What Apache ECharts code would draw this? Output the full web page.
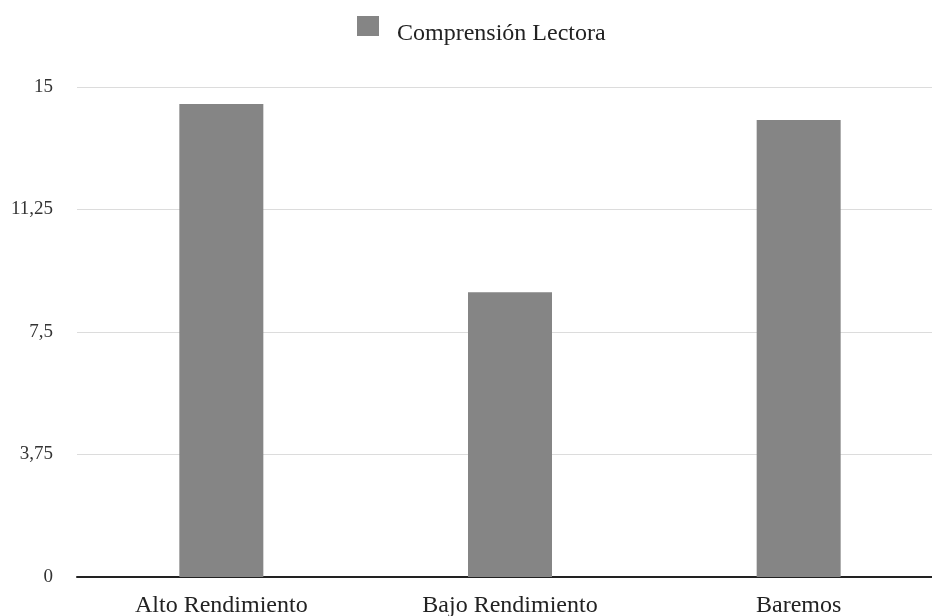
<!DOCTYPE html>
<html>
<head>
<meta charset="utf-8">
<script src="https://cdn.jsdelivr.net/npm/echarts@6/dist/echarts.min.js"></script>
<style>html,body{margin:0;padding:0;background:#fff;}#c{width:932px;height:616px;}</style>
</head>
<body>
<div id="c"></div>
<script>
const categories = ['Alto Rendimiento', 'Bajo Rendimiento', 'Baremos'];
const seriesName = 'Comprensión Lectora';
const values = [14.48, 8.72, 13.99];
const yTicks = [0, 3.75, 7.5, 11.25, 15];

const chart = echarts.init(document.getElementById('c'), null, {renderer: 'canvas'});
const serif = '"Liberation Serif", "DejaVu Serif", serif';
chart.setOption({
  backgroundColor: '#ffffff',
  animation: false,
  legend: {
    data: [seriesName],
    top: 5,
    left: 352,
    itemWidth: 22,
    itemHeight: 20,
    icon: 'rect',
    formatter: name => '{s| }\n{a|' + name + '}',
    textStyle: {
      fontFamily: serif, fontSize: 24, color: '#222', padding: [0, 0, 0, 13],
      rich: {
        s: {fontSize: 4, lineHeight: 15},
        a: {fontFamily: serif, fontSize: 24, color: '#222', lineHeight: 28}
      }
    }
  },
  grid: {left: 77, width: 866, top: 87, bottom: 39, containLabel: false, outerBoundsMode: 'none'},
  xAxis: {
    type: 'category',
    data: categories,
    axisLine: {lineStyle: {color: '#222', width: 2}},
    axisTick: {show: false},
    axisLabel: {fontFamily: serif, fontSize: 24, color: '#222', margin: 17}
  },
  yAxis: {
    type: 'value',
    min: yTicks[0], max: yTicks[yTicks.length - 1], interval: yTicks[1] - yTicks[0],
    axisLine: {show: false},
    axisTick: {show: false},
    splitLine: {lineStyle: {color: '#dcdcdc', width: 1}},
    axisLabel: {
      fontFamily: serif, fontSize: 19, color: '#333', margin: 24,
      formatter: v => String(v).replace('.', ',')
    }
  },
  series: [{
    name: seriesName,
    type: 'bar',
    data: values,
    barWidth: 84,
    itemStyle: {color: '#858585'}
  }]
});
</script>
</body>
</html>
